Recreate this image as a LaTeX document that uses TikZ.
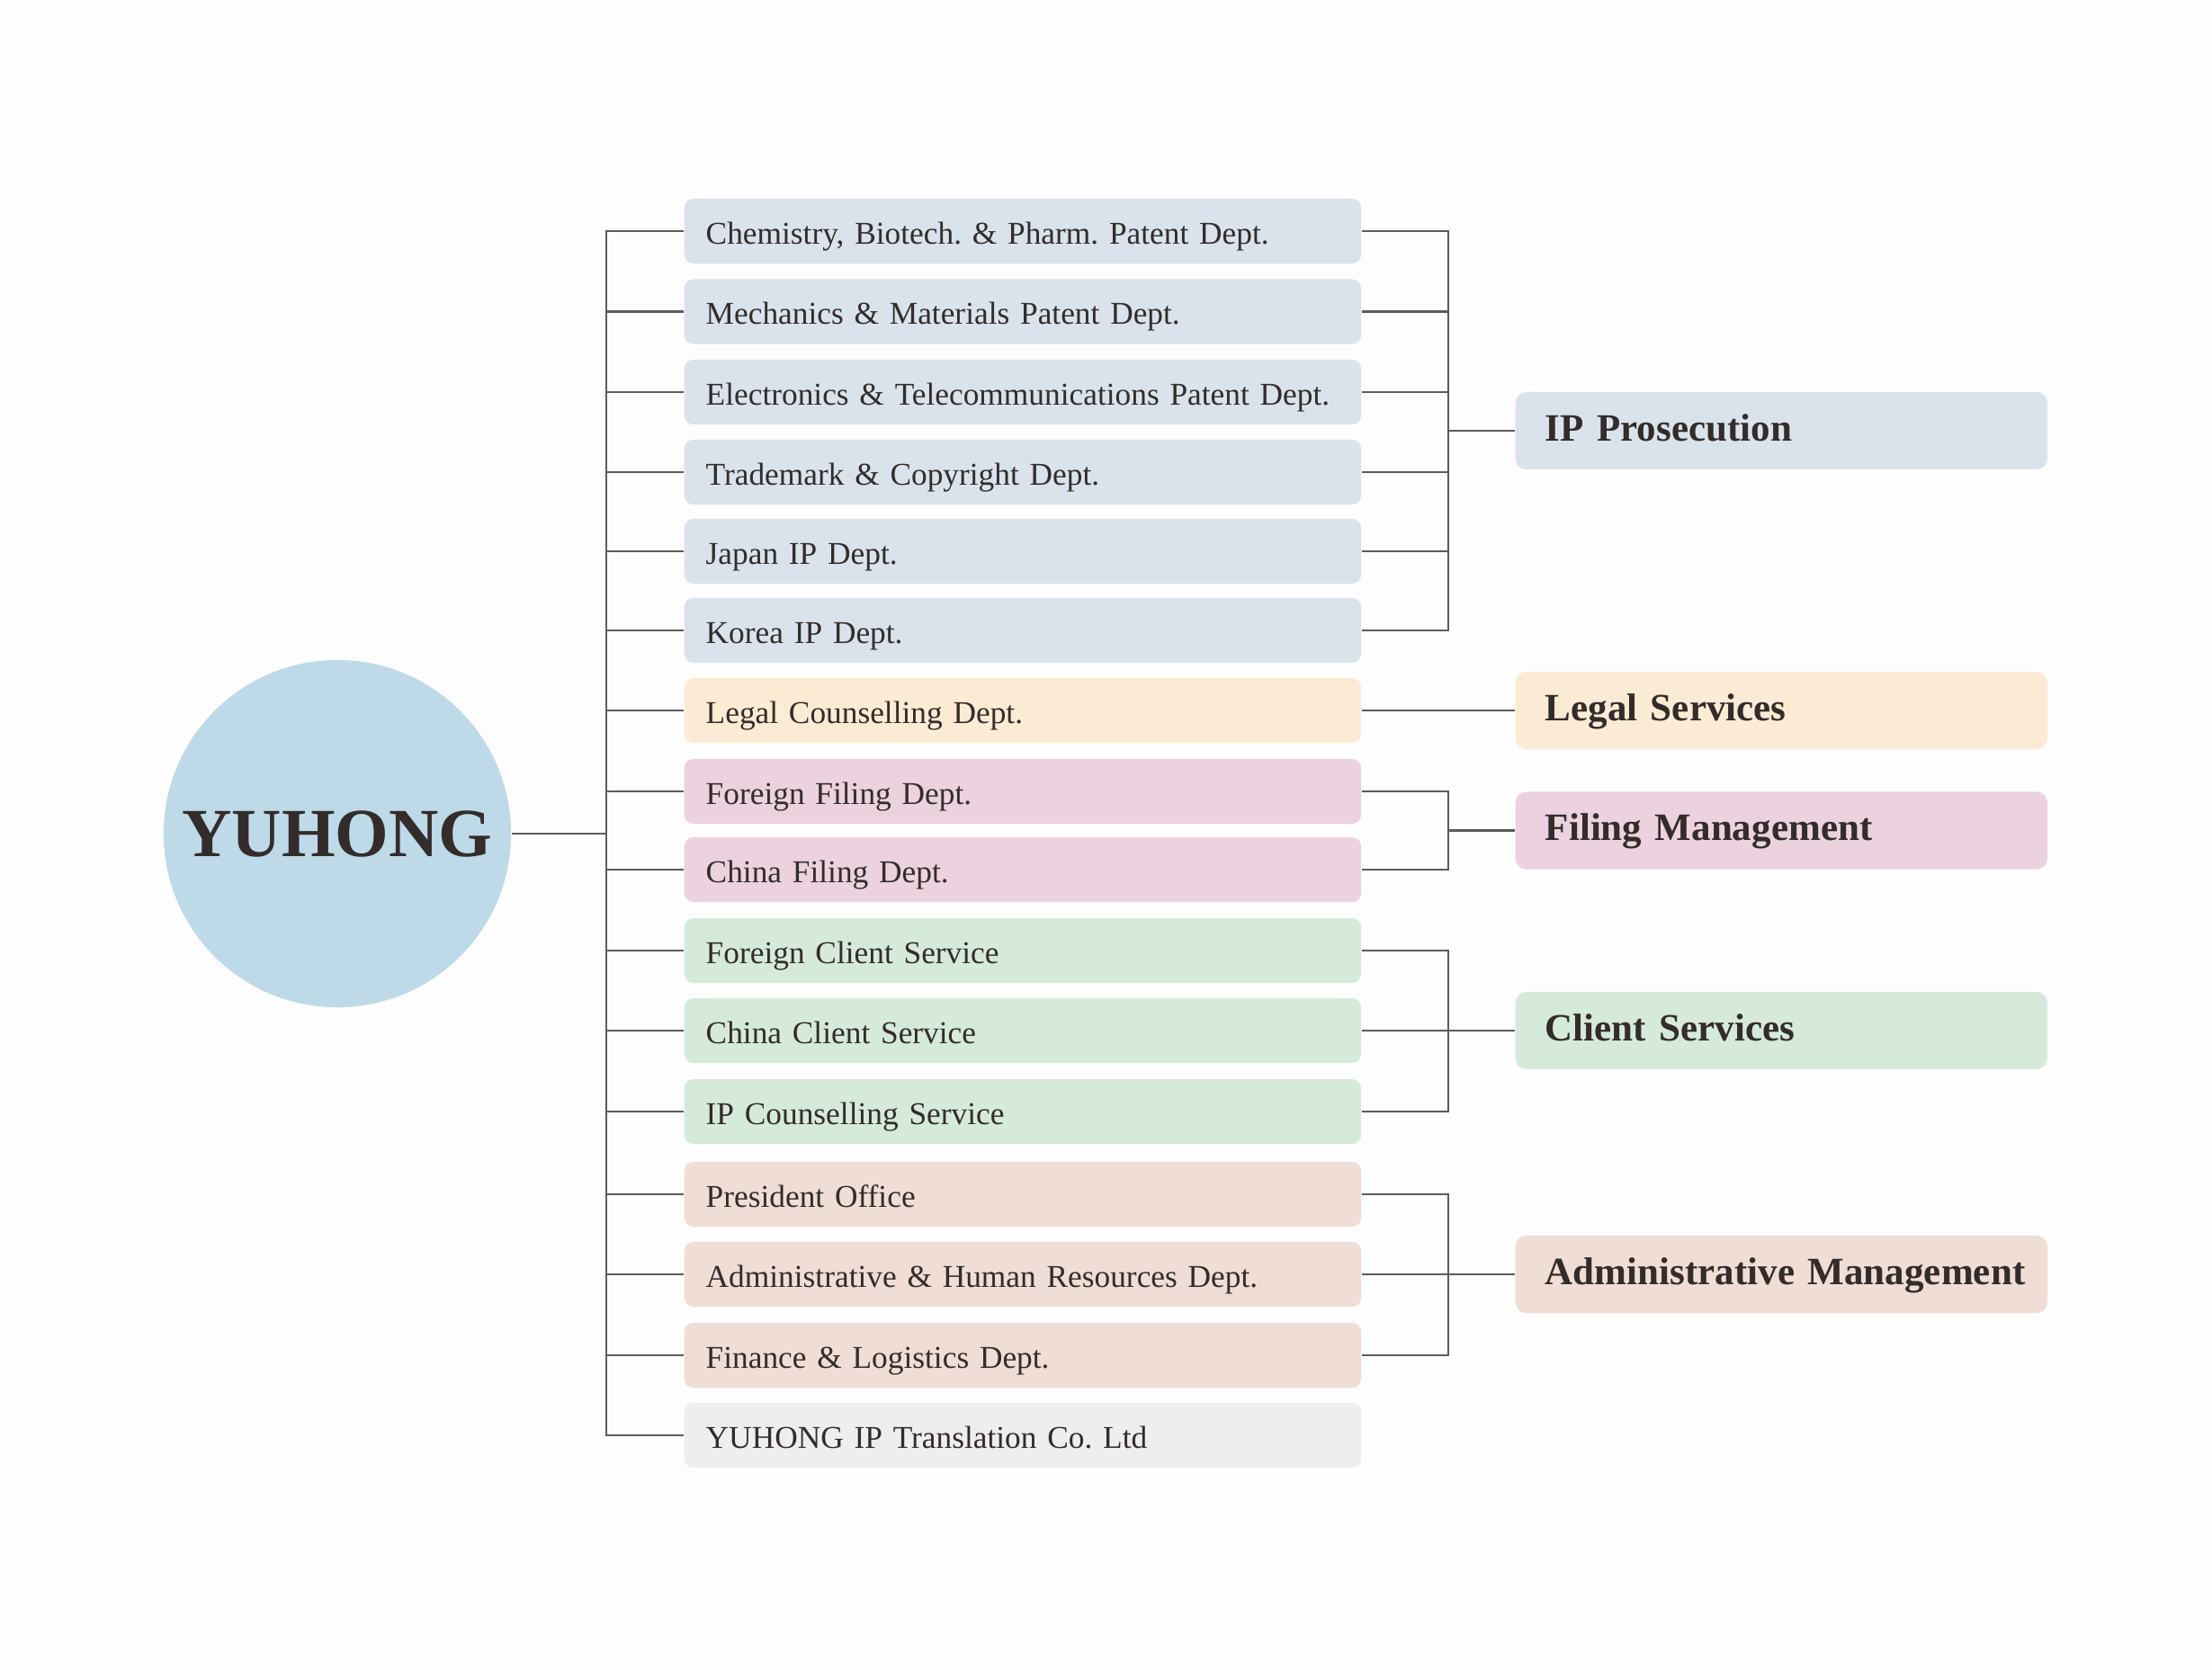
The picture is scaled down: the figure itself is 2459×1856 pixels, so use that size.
\documentclass[tikz,border=0pt]{standalone}
\usepackage{fontspec}
\setmainfont{Liberation Serif}
\frenchspacing
\definecolor{bgc}{HTML}{FDFDFD}
\definecolor{txt}{HTML}{332C2B}
\definecolor{linec}{HTML}{5C5C5C}
\definecolor{circc}{HTML}{BEDAE8}
\definecolor{ipc}{HTML}{DAE3EC}
\definecolor{legc}{HTML}{FCEBD4}
\definecolor{filc}{HTML}{ECD2DF}
\definecolor{clic}{HTML}{D6EADB}
\definecolor{admc}{HTML}{F0DDD5}
\definecolor{trc}{HTML}{EEEEEE}
\tikzset{
  dept/.style={anchor=west, rounded corners=0.1cm, text=txt, text width=7.04cm, inner xsep=0.24cm, inner ysep=0pt, minimum height=0.72cm, text height=0.85em, text depth=0.03em, align=left, font=\fontsize{10.05}{12}\selectfont},
  cat/.style={anchor=west, rounded corners=0.12cm, text=txt, text width=5.57cm, inner xsep=0.17cm, inner ysep=0pt, minimum height=0.86cm, text height=0.7em, text depth=0.05em, align=left, font=\fontsize{12.25}{14}\selectfont\bfseries, execute at begin node=\hspace*{0.16cm}},
  conn/.style={draw=linec, line width=0.8pt}
}
\begin{document}
\begin{tikzpicture}[x=0.01cm, y=-0.01cm]
\fill[bgc] (0,0) rectangle (2459,1856);
\useasboundingbox (0,0) rectangle (2459,1856);

\node[circle, fill=circc, minimum size=3.86cm, inner sep=0pt, text=txt, font=\fontsize{21.8}{24}\selectfont\bfseries] (yuhong) at (375,927) {YUHONG};

\node[dept, fill=ipc] (d1) at (760,257) {Chemistry, Biotech. \& Pharm. Patent Dept.};
\node[dept, fill=ipc] (d2) at (760,346.5) {Mechanics \& Materials Patent Dept.};
\node[dept, fill=ipc] (d3) at (760,436) {Electronics \& Telecommunications Patent Dept.};
\node[dept, fill=ipc] (d4) at (760,525) {Trademark \& Copyright Dept.};
\node[dept, fill=ipc] (d5) at (760,613) {Japan IP Dept.};
\node[dept, fill=ipc] (d6) at (760,701) {Korea IP Dept.};
\node[dept, fill=legc] (d7) at (760,790) {Legal Counselling Dept.};
\node[dept, fill=filc] (d8) at (760,880) {Foreign Filing Dept.};
\node[dept, fill=filc] (d9) at (760,967) {China Filing Dept.};
\node[dept, fill=clic] (d10) at (760,1057) {Foreign Client Service};
\node[dept, fill=clic] (d11) at (760,1146) {China Client Service};
\node[dept, fill=clic] (d12) at (760,1236) {IP Counselling Service};
\node[dept, fill=admc] (d13) at (760,1328) {President Office};
\node[dept, fill=admc] (d14) at (760,1417) {Administrative \& Human Resources Dept.};
\node[dept, fill=admc] (d15) at (760,1507) {Finance \& Logistics Dept.};
\node[dept, fill=trc] (d16) at (760,1596) {YUHONG IP Translation Co. Ltd};

\node[cat, fill=ipc] (c1) at (1684,479) {IP Prosecution};
\node[cat, fill=legc] (c2) at (1684,790) {Legal Services};
\node[cat, fill=filc] (c3) at (1684,923.5) {Filing Management};
\node[cat, fill=clic] (c4) at (1684,1146) {Client Services};
\node[cat, fill=admc] (c5) at (1684,1417) {Administrative Management};

% left tree
\coordinate (sp) at (674,927);
\draw[conn] (yuhong.east) -- (sp);
\foreach \i in {1,...,16} { \draw[conn] (d\i.west) -| (sp); }

% right brackets
\coordinate (j1) at (1610,479);
\coordinate (j3) at (1610,923.5);
\coordinate (j4) at (1610,1146);
\coordinate (j5) at (1610,1417);
\foreach \i in {1,...,6} { \draw[conn] (d\i.east) -| (j1); }
\draw[conn] (j1) -- (c1.west);
\draw[conn] (d7.east) -- (c2.west);
\foreach \i in {8,9} { \draw[conn] (d\i.east) -| (j3); }
\draw[conn] (j3) -- (c3.west);
\foreach \i in {10,11,12} { \draw[conn] (d\i.east) -| (j4); }
\draw[conn] (j4) -- (c4.west);
\foreach \i in {13,14,15} { \draw[conn] (d\i.east) -| (j5); }
\draw[conn] (j5) -- (c5.west);
\end{tikzpicture}
\end{document}
